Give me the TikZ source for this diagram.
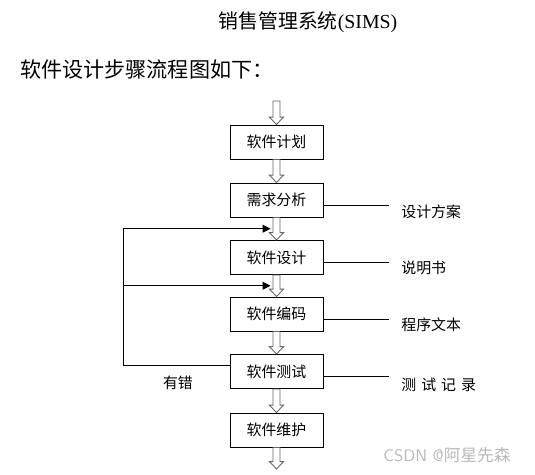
\documentclass[tikz,border=0pt]{standalone}
\usepackage{fontspec}
\setmainfont{Liberation Serif}
\newfontfamily\cjk{Noto Sans CJK SC}
\usetikzlibrary{arrows.meta,calc}

\tikzset{
  stepbox/.style={draw, line width=0.55pt, minimum width=1.86cm, minimum height=0.68cm,
    inner sep=0pt, font=\cjk\fontsize{8.5}{10}\selectfont},
  note/.style={inner sep=0pt, font=\cjk\fontsize{8.5}{10}\selectfont},
  hollow/.style={draw=gray!80!black, line width=0.5pt,
    to path={let \p1=(\tikztostart), \p2=(\tikztotarget) in
      (\x1-2pt,\y1) -- (\x1-2pt,\y2+4.2pt) -- (\x1-4pt,\y2+4.2pt) -- (\x1,\y2)
      -- (\x1+4pt,\y2+4.2pt) -- (\x1+2pt,\y2+4.2pt) -- (\x1+2pt,\y1) -- cycle}},
  back/.style={line width=0.55pt, -{Triangle[length=4.5pt,width=4.5pt]}},
  side/.style={line width=0.55pt}
}

\begin{document}
\begin{tikzpicture}[x=0.02cm,y=-0.02cm]
  \useasboundingbox (0,0) rectangle (535,475);

  % title lines
  \node[inner sep=0pt] (title) at (308,22) {\fontsize{11.3}{13}\selectfont{\cjk 销售管理系统}(SIMS)};
  \node[inner sep=0pt, anchor=west] (intro) at (20,70) {\cjk\fontsize{12}{14}\selectfont 软件设计步骤流程图如下：};

  % steps
  \node[stepbox] (jh) at (276.5,142) {软件计划};
  \node[stepbox] (xq) at (276.5,200) {需求分析};
  \node[stepbox] (sj) at (276.5,257.5) {软件设计};
  \node[stepbox] (bm) at (276.5,314) {软件编码};
  \node[stepbox] (cs) at (276.5,371.5) {软件测试};
  \node[stepbox] (wh) at (276.5,430) {软件维护};

  \coordinate (start) at (276.5,101);
  \coordinate (end) at (276.5,469);

  % hollow arrows
  \draw[hollow] (start) to (jh.north);
  \draw[hollow] (jh.south) to (xq.north);
  \draw[hollow] (xq.south) to (sj.north);
  \draw[hollow] (sj.south) to (bm.north);
  \draw[hollow] (bm.south) to (cs.north);
  \draw[hollow] (cs.south) to (wh.north);
  \draw[hollow] (wh.south) to (end);

  % outputs on the right
  \node[note, anchor=west] (fa) at (401,212) {设计方案};
  \node[note, anchor=west] (sm) at (401,268) {说明书};
  \node[note, anchor=west] (wb) at (401,325) {程序文本};
  \node[note, anchor=west] (jl) at (401,385) {测\,\,试\,\,记\,\,录};
  \draw[side] ($(xq.east)+(0,5)$) -- ($(xq.east -| fa.west)+(-12,5)$);
  \draw[side] ($(sj.east)+(0,5)$) -- ($(sj.east -| sm.west)+(-12,5)$);
  \draw[side] ($(bm.east)+(0,5)$) -- ($(bm.east -| wb.west)+(-12,5)$);
  \draw[side] ($(cs.east)+(0,5)$) -- ($(cs.east -| jl.west)+(-12,5)$);

  % feedback when errors are found
  \coordinate (in1) at ($(xq.south)!.5!(sj.north)+(-6,0)$);
  \coordinate (in2) at ($(sj.south)!.5!(bm.north)+(-6,0)$);
  \coordinate (lp) at ($(cs.west)+(-106,-6.5)$);
  \draw[back] ($(cs.west)+(0,-6.5)$) -- (lp) |- (in1);
  \draw[back] (lp |- in2) -- (in2);
  \node[note] (err) at (178,383) {有错};

  \node[inner sep=0pt, text=gray!55, anchor=west] (mark) at (383,455)
    {\fontsize{9.5}{11}\selectfont\sffamily CSDN @{\cjk 阿星先森}};
\end{tikzpicture}
\end{document}
